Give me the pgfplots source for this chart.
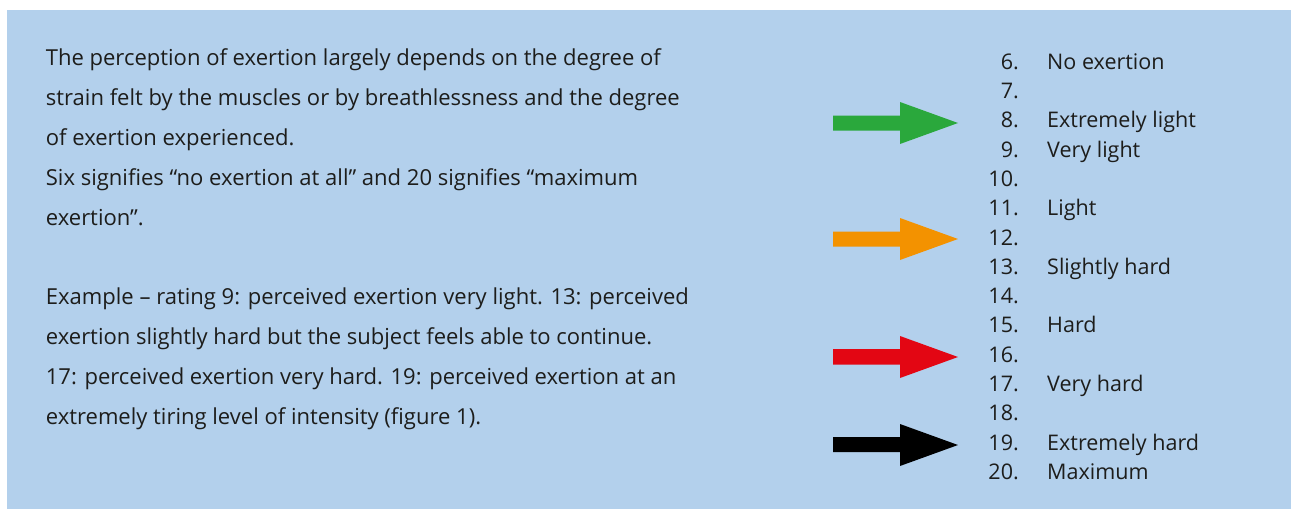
\documentclass[border=0pt]{standalone}
\usepackage{pgfplots}
\pgfplotsset{compat=1.18}
\usepackage{fontspec}
\setmainfont{Open Sans}
\definecolor{panel}{HTML}{B3D0EC}
\definecolor{txt}{HTML}{1D1D1B}
\definecolor{agreen}{HTML}{2AA83C}
\definecolor{aorange}{HTML}{F39200}
\definecolor{ared}{HTML}{E30613}
\definecolor{ablack}{HTML}{000000}
\begin{document}
\begin{tikzpicture}
\begin{axis}[
  hide axis, scale only axis,
  width=1291bp, height=509bp,
  xmin=0, xmax=1291, ymin=0, ymax=509,
  y dir=reverse, clip=false,
]
% background
\addplot[fill=white, draw=none] coordinates {(0,0) (1291,0) (1291,509) (0,509)} -- cycle;
\addplot[fill=panel, draw=none] coordinates {(7,10) (1291,10) (1291,509) (7,509)} -- cycle;
% arrows (tip at rating rows 8, 12, 16, 19)
\addplot[fill=agreen, draw=none] coordinates {(833,115.5) (900,115.5) (900,102) (958,123) (900,144) (900,130.5) (833,130.5)} -- cycle;
\addplot[fill=aorange, draw=none] coordinates {(833,231.5) (900,231.5) (900,218) (958,239) (900,260) (900,246.5) (833,246.5)} -- cycle;
\addplot[fill=ared, draw=none] coordinates {(833,349) (900,349) (900,336) (958,357) (900,378) (900,364.5) (833,364.5)} -- cycle;
\addplot[fill=ablack, draw=none] coordinates {(833,437) (900,437) (900,424) (958,445) (900,466) (900,452) (833,452)} -- cycle;
% left text
\begin{scope}[every node/.style={anchor=base west, inner sep=0pt, text=txt, font=\fontsize{22.1}{24}\selectfont}]
\node at (axis cs:45.7,66) {The perception of exertion largely depends on the degree of};
\node at (axis cs:45.7,105.8) {strain felt by the muscles or by breathlessness and the degree};
\node at (axis cs:45.7,145.6) {of exertion experienced.};
\node at (axis cs:45.7,185.4) {Six signifies “no exertion at all” and 20 signifies “maximum};
\node at (axis cs:45.7,225.2) {exertion”.};
\node at (axis cs:45.7,304.8) {Example – rating 9: perceived exertion very light. 13: perceived};
\node at (axis cs:45.7,344.6) {exertion slightly hard but the subject feels able to continue.};
\node at (axis cs:45.7,384.4) {17: perceived exertion very hard. 19: perceived exertion at an};
\node at (axis cs:45.7,424.2) {extremely tiring level of intensity (figure 1).};
\end{scope}
% right list
\begin{scope}[every node/.style={inner sep=0pt, text=txt, font=\fontsize{21.6}{24}\selectfont}]
\node[anchor=base east] at (axis cs:1019,69.3) {6.};
\node[anchor=base east] at (axis cs:1019,98.6) {7.};
\node[anchor=base east] at (axis cs:1019,127.9) {8.};
\node[anchor=base east] at (axis cs:1019,157.2) {9.};
\node[anchor=base east] at (axis cs:1019,186.5) {10.};
\node[anchor=base east] at (axis cs:1019,215.8) {11.};
\node[anchor=base east] at (axis cs:1019,245.0) {12.};
\node[anchor=base east] at (axis cs:1019,274.3) {13.};
\node[anchor=base east] at (axis cs:1019,303.6) {14.};
\node[anchor=base east] at (axis cs:1019,332.9) {15.};
\node[anchor=base east] at (axis cs:1019,362.2) {16.};
\node[anchor=base east] at (axis cs:1019,391.5) {17.};
\node[anchor=base east] at (axis cs:1019,420.8) {18.};
\node[anchor=base east] at (axis cs:1019,450.1) {19.};
\node[anchor=base east] at (axis cs:1019,479.4) {20.};
\node[anchor=base west] at (axis cs:1047,69.3) {No exertion};
\node[anchor=base west] at (axis cs:1047,127.9) {Extremely light};
\node[anchor=base west] at (axis cs:1047,157.2) {Very light};
\node[anchor=base west] at (axis cs:1047,215.8) {Light};
\node[anchor=base west] at (axis cs:1047,274.3) {Slightly hard};
\node[anchor=base west] at (axis cs:1047,332.9) {Hard};
\node[anchor=base west] at (axis cs:1047,391.5) {Very hard};
\node[anchor=base west] at (axis cs:1047,450.1) {Extremely hard};
\node[anchor=base west] at (axis cs:1047,479.4) {Maximum};
\end{scope}
\end{axis}
\end{tikzpicture}
\end{document}
